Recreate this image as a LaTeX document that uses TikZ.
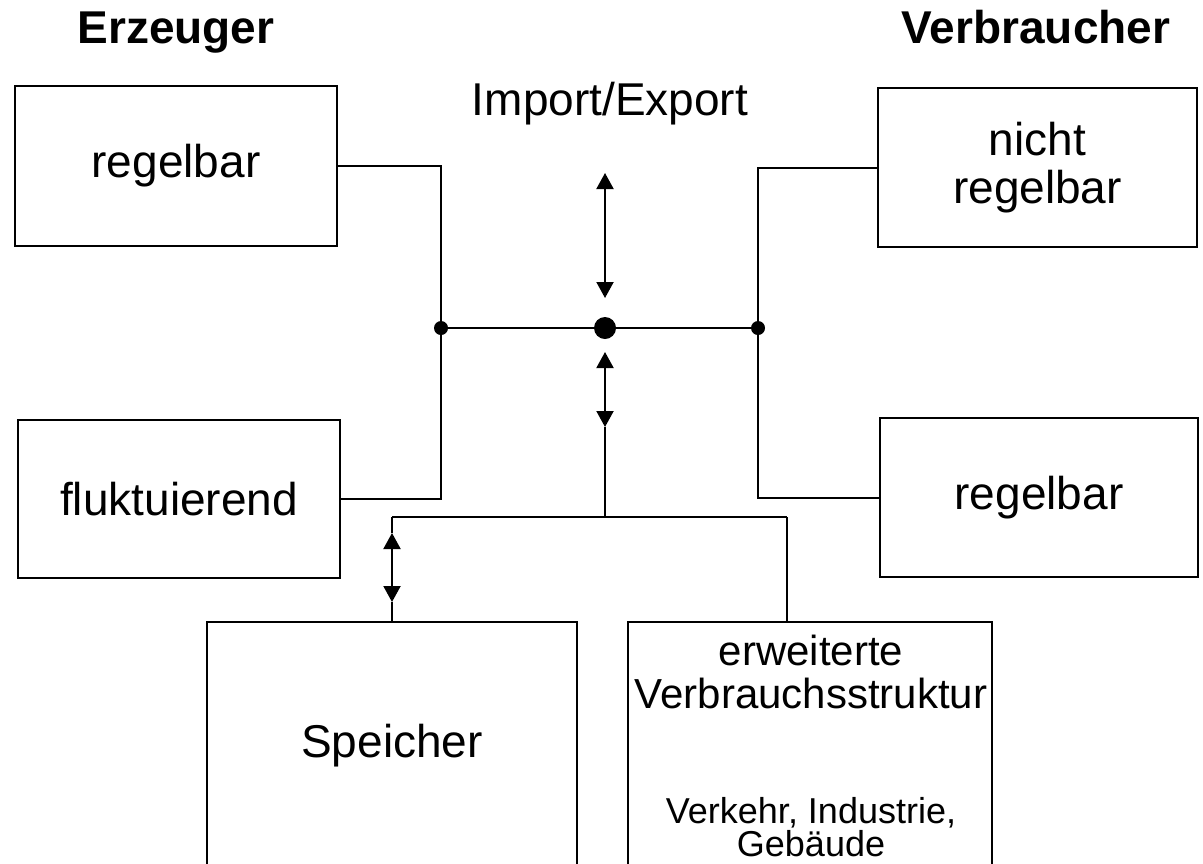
\documentclass[tikz,border=0pt]{standalone}
\usepackage{fontspec}
\setmainfont{Liberation Sans}
\usetikzlibrary{arrows.meta}
\tikzset{
	box/.style 2 args={draw,line width=1pt,inner sep=0pt,minimum width=#1,minimum height=#2,align=center,font=\fontsize{23pt}{24pt}\selectfont},
	title/.style={anchor=base,font=\fontsize{23pt}{24pt}\selectfont\bfseries},
	txt/.style 2 args={anchor=base,inner sep=0pt,align=center,font=\fontsize{#1}{#2}\selectfont},
	jdot/.style={circle,fill,inner sep=0pt,minimum size=7pt},
	hubdot/.style={circle,fill,inner sep=0pt,minimum size=11pt},
	flow/.style={line width=1pt},
	both/.style={line width=1pt,{Triangle[length=8pt,width=8.5pt]}-{Triangle[length=8pt,width=8.5pt]}}
}
\begin{document}
\begin{tikzpicture}[x=0.5pt,y=-0.5pt]
	\useasboundingbox (0,0) rectangle (1203,863);

	\node [title] (erz) at (176,43) {Erzeuger};
	\node [title] (verb) at (1036,43) {Verbraucher};
	\node [txt={23pt}{24pt}] (imex) at (610,115) {Import/Export};

	\node [box={161pt}{80pt}] (gen1) at (176,166) {regelbar};
	\node [box={161pt}{79pt}] (gen2) at (179,499) {fluktuierend};
	\node [box={159.5pt}{79.5pt}] (con1) at (1037.5,167.5) {nicht\\regelbar};
	\node [box={159pt}{79.5pt}] (con2) at (1039,497.5) {regelbar};
	\node [box={185pt}{124pt}] (sto) at (392,746) {Speicher};
	\node [box={182pt}{124pt}] (ext) at (810,746) {};

	\node [txt={21pt}{21.5pt}] (ext1) at (811,708) {erweiterte\\Verbrauchsstruktur};
	\node [txt={18pt}{16.5pt}] (ext2) at (811,856) {Verkehr, Industrie,\\Gebäude};

	\node [jdot] (jL) at (441,328) {};
	\node [hubdot] (hub) at (605,328) {};
	\node [jdot] (jR) at (758,328) {};

	\coordinate (ie1) at (605,173);
	\coordinate (ie2) at (605,298);
	\coordinate (st1) at (605,352);
	\coordinate (st2) at (605,427);
	\coordinate (tee) at (605,517);
	\coordinate (teeL) at (392,517);
	\coordinate (teeR) at (787,517);
	\coordinate (sp1) at (392,533);
	\coordinate (sp2) at (392,602);

	\draw [flow] (gen1.east) -| (jL);
	\draw [flow] (jL) |- (gen2.east);
	\draw [flow] (con1.west) -| (jR);
	\draw [flow] (jR) |- (con2.west);
	\draw [flow] (jL) -- (hub) -- (jR);

	\draw [both] (ie1) -- (ie2);
	\draw [both] (st1) -- (st2);
	\draw [flow] (st2) -- (tee);
	\draw [flow] (teeL) -- (teeR);
	\draw [flow] (teeR) -- (teeR |- ext.north);
	\draw [flow] (teeL) -- (sp1);
	\draw [both] (sp1) -- (sp2);
	\draw [flow] (sp2) -- (sto.north);
\end{tikzpicture}
\end{document}
